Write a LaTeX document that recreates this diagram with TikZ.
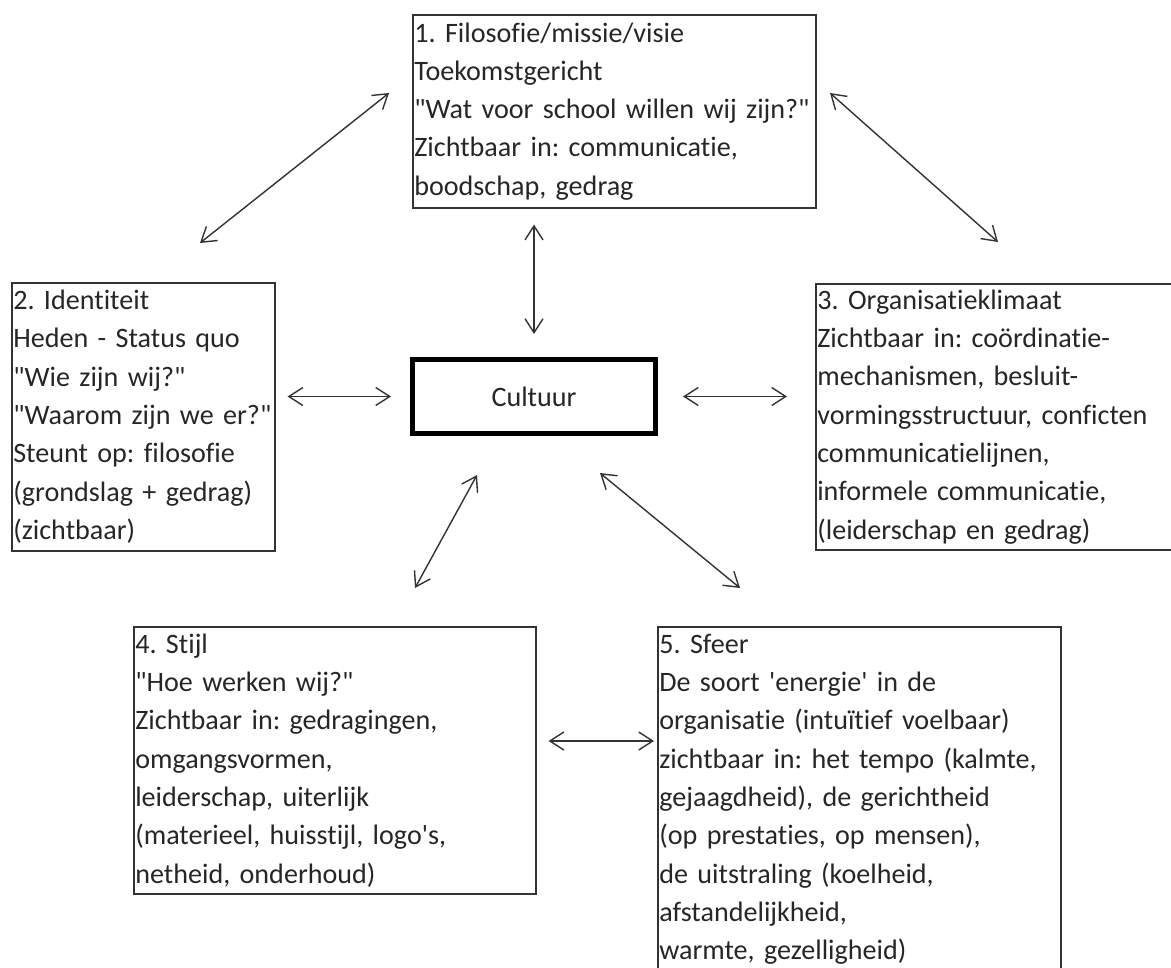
\documentclass[tikz,border=0pt]{standalone}
\usepackage{fontspec}
\setmainfont[Ligatures={TeXOff,NoCommon}]{Carlito}
\usetikzlibrary{arrows.meta}
\frenchspacing

\begin{document}
\begin{tikzpicture}[
    textbox/.style={rectangle, draw=black!80, line width=0.9pt,
      anchor=north west, align=left, text=black!85,
      inner xsep=0.03cm, inner ysep=0pt,
      font=\fontsize{16}{21.8}\selectfont},
    twoway/.style={{Straight Barb[length=0.28cm,width=0.36cm]}-{Straight Barb[length=0.28cm,width=0.36cm]},
      line width=0.8pt, draw=black!80}
  ]
  \clip (0,0) rectangle (23.42,-19.34);

% the five boxes
  \node[textbox,
      text width = 8.0cm,
      minimum height = 3.86cm] (filo) at (8.24,-0.28)
      {1. Filosofie/missie/visie\\Toekomstgericht\\"Wat voor school willen wij zijn?"\\Zichtbaar in: communicatie,\\boodschap, gedrag};

  \node[textbox,
      text width = 5.2cm,
      minimum height = 5.36cm] (ident) at (0.22,-5.64)
      {2. Identiteit\\Heden - Status quo\\"Wie zijn wij?"\\"Waarom zijn we er?"\\Steunt op: filosofie\\(grondslag + gedrag)\\(zichtbaar)};

  \node[textbox,
      text width = 7.14cm,
      minimum height = 5.32cm] (klimaat) at (16.3,-5.66)
      {3. Organisatieklimaat\\Zichtbaar in: coördinatie-\\mechanismen, besluit-\\vormingsstructuur, conficten\\communicatielijnen,\\informele communicatie,\\(leiderschap en gedrag)};

  \node[textbox,
      text width = 7.98cm,
      minimum height = 5.34cm] (stijl) at (2.66,-12.52)
      {4. Stijl\\"Hoe werken wij?"\\Zichtbaar in: gedragingen,\\omgangsvormen,\\leiderschap, uiterlijk\\(materieel, huisstijl, logo's,\\netheid, onderhoud)};

  \node[textbox,
      text width = 8.0cm,
      minimum height = 6.9cm] (sfeer) at (13.14,-12.52)
      {5. Sfeer\\De soort 'energie' in de\\organisatie (intuïtief voelbaar)\\zichtbaar in: het tempo (kalmte,\\gejaagdheid), de gerichtheid\\(op prestaties, op mensen),\\de uitstraling (koelheid,\\afstandelijkheid,\\warmte, gezelligheid)};

% centre
  \node[rectangle,
      draw = black,
      line width = 0.1cm,
      text = black!85,
      font = \fontsize{16}{21.8}\selectfont,
      minimum width = 4.86cm,
      minimum height = 1.48cm] (cult) at (10.68,-7.93) {Cultuur};

% arrow ends
  \coordinate (a1) at (4.0,-4.86);
  \coordinate (a2) at (7.78,-1.86);
  \coordinate (b1) at (16.6,-1.86);
  \coordinate (b2) at (19.96,-4.84);
  \coordinate (c1) at (8.3,-11.76);
  \coordinate (c2) at (9.54,-9.5);
  \coordinate (d1) at (12.0,-9.46);
  \coordinate (d2) at (14.8,-11.76);
  \coordinate (e) at (11.9,-14.82);

% arrows
  \draw[twoway] (a1) -- (a2);
  \draw[twoway] (b1) -- (b2);
  \draw[twoway] (c1) -- (c2);
  \draw[twoway] (d1) -- (d2);
  \draw[twoway, shorten <=0.46cm, shorten >=0.32cm] (cult.north) -- (cult.north |- filo.south);
  \draw[twoway, shorten <=0.24cm, shorten >=0.38cm] (cult.west -| ident.east) -- (cult.west);
  \draw[twoway, shorten <=0.5cm, shorten >=0.56cm] (cult.east) -- (cult.east -| klimaat.west);
  \draw[twoway, shorten <=0.24cm, shorten >=0.06cm] (e -| stijl.east) -- (e -| sfeer.west);

\end{tikzpicture}
\end{document}
